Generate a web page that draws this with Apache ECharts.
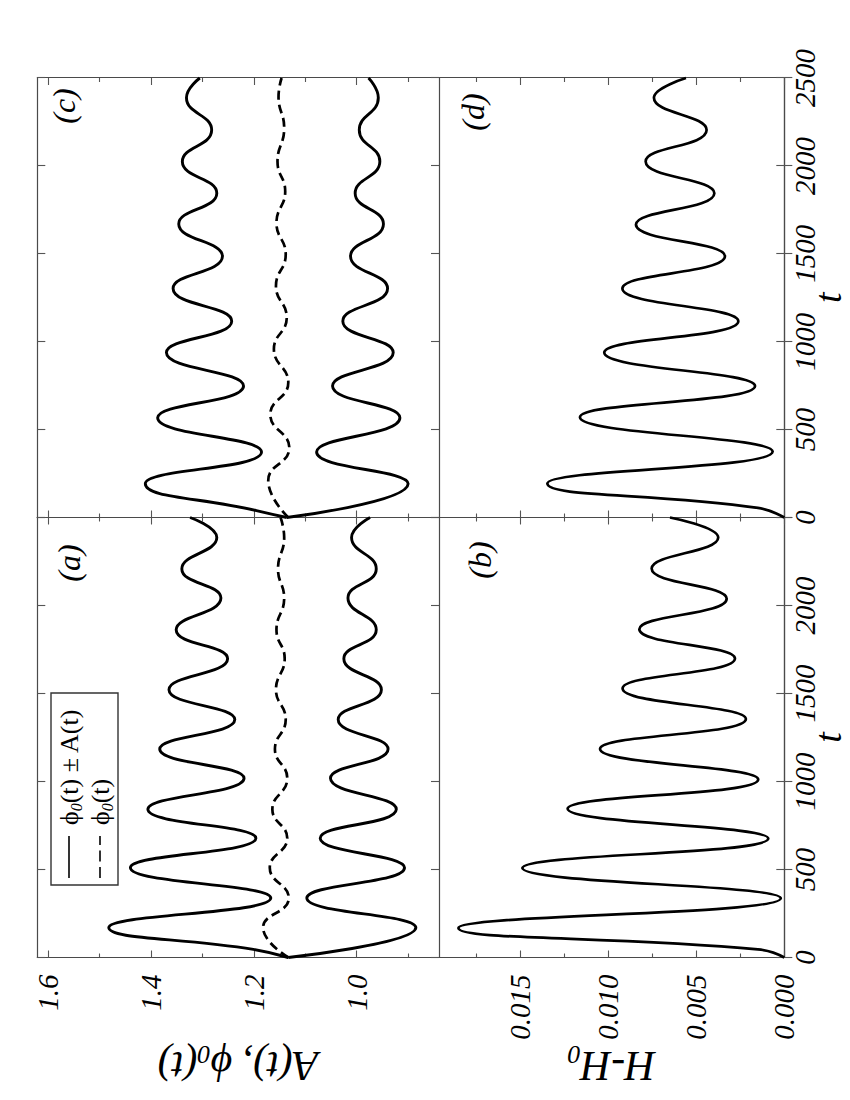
<!DOCTYPE html>
<html><head><meta charset="utf-8">
<script src="https://cdn.jsdelivr.net/npm/echarts@6/dist/echarts.min.js"></script>
<style>
html,body{margin:0;padding:0;background:#fff;overflow:hidden;width:850px;height:1100px;}
#chart{position:absolute;left:0;top:0;width:1100px;height:850px;transform-origin:0 0;transform:translate(0px,1100px) rotate(-90deg);background:#fff;}
</style></head><body><div id="chart"></div>
<script>
// ---- tick labels / axis values ----
const tTickValues = [0, 500, 1000, 1500, 2000, 2500];
const tLabelsB = [0, 500, 1000, 1500, 2000];
const phiMajor = [1.0, 1.2, 1.4, 1.6];
const phiMinor = [0.9, 1.1, 1.3, 1.5];
const hMajor = [0, 0.005, 0.010, 0.015];
const hMinor = [0.0025, 0.0075, 0.0125, 0.0175];

// ---- panel (a): phi0 +/- A and phi0 ----
const tA_upper = [0, 46, 170, 338, 510, 678, 842, 1018, 1184, 1352, 1522, 1698, 1862, 2042, 2208, 2386, 2500];
const a_upper  = [1.133, 1.201, 1.482, 1.167, 1.440, 1.196, 1.406, 1.219, 1.383, 1.237, 1.365, 1.251, 1.351, 1.264, 1.340, 1.272, 1.324];
const tA = [0, 170, 338, 510, 678, 842, 1018, 1184, 1352, 1522, 1698, 1862, 2042, 2208, 2386, 2500];
const a_lower  = [1.133, 0.885, 1.097, 0.907, 1.071, 0.923, 1.051, 0.939, 1.036, 0.952, 1.025, 0.962, 1.017, 0.962, 1.010, 0.974];
const a_phi    = [1.133, 1.182, 1.132, 1.169, 1.135, 1.164, 1.135, 1.159, 1.138, 1.157, 1.140, 1.156, 1.141, 1.153, 1.141, 1.148];

// ---- panel (c) ----
const tC_upper = [0, 39, 192, 372, 567, 748, 938, 1117, 1303, 1486, 1670, 1845, 2025, 2204, 2388, 2500];
const c_upper  = [1.136, 1.195, 1.411, 1.185, 1.387, 1.220, 1.370, 1.243, 1.357, 1.261, 1.346, 1.272, 1.339, 1.282, 1.331, 1.305];
const tC = [0, 192, 372, 567, 748, 938, 1117, 1303, 1486, 1670, 1845, 2025, 2204, 2388, 2500];
const c_lower  = [1.136, 0.900, 1.078, 0.916, 1.047, 0.929, 1.027, 0.940, 1.012, 0.948, 1.003, 0.955, 0.995, 0.958, 0.977];
const tC_phi = [0, 211, 396, 586, 768, 958, 1137, 1317, 1496, 1676, 1855, 2025, 2214, 2394, 2500];
const c_phi  = [1.133, 1.172, 1.131, 1.168, 1.133, 1.161, 1.136, 1.157, 1.138, 1.156, 1.139, 1.154, 1.141, 1.152, 1.146];

// ---- panel (b): H - H0 ----
const tB = [0, 46, 168, 337, 508, 676, 845, 1012, 1185, 1355, 1529, 1699, 1865, 2039, 2210, 2386, 2500];
const b_H = [0, 0.0015, 0.0185, 0.0002, 0.01487, 0.00091, 0.0123, 0.00148, 0.01046, 0.00218, 0.00918, 0.0028, 0.00823, 0.00327, 0.00753, 0.00375, 0.00649];

// ---- panel (d) ----
const tD = [0, 55, 193, 375, 570, 748, 938, 1117, 1303, 1486, 1666, 1845, 2025, 2204, 2388, 2500];
const d_H = [0, 0.0015, 0.01345, 0.00066, 0.0116, 0.00166, 0.01022, 0.00261, 0.00919, 0.00337, 0.00842, 0.00397, 0.00787, 0.00441, 0.0074, 0.00558];

const SERIF = '"Liberation Serif", "DejaVu Serif", "Times New Roman", serif';
const LINE_COL = '#4a4a4a';
const TICK_COL = '#555';
const TICK_FONT = 29;

function zip(t, v) { return t.map((x, i) => [x, v[i]]); }

const grids = [
  {left: 142.5, top: 37.3, width: 440, height: 401.7},   // (a)
  {left: 582.5, top: 37.3, width: 439.5, height: 401.7}, // (c)
  {left: 142.5, top: 439, width: 440, height: 345.3},    // (b)
  {left: 582.5, top: 439, width: 439.5, height: 345.3}   // (d)
].map(g => Object.assign({outerBoundsMode: 'none', containLabel: false}, g));

const richName = {
  n: {fontSize: 42, fontStyle: 'italic', fontFamily: SERIF, color: '#000', lineHeight: 48},
  s: {fontSize: 26, fontStyle: 'italic', fontFamily: SERIF, color: '#000', lineHeight: 48, verticalAlign: 'bottom'}
};

function tAxes(g, labelVals) {
  const base = {
    type: 'value', gridIndex: g, min: 0, max: 2500, interval: 500,
    splitLine: {show: false},
    axisLine: {show: true, lineStyle: {color: LINE_COL, width: 1.2}},
    axisTick: {show: true, inside: true, length: 8, lineStyle: {color: TICK_COL, width: 1.1}}
  };
  const bottom = Object.assign({}, base, {
    position: 'bottom',
    axisLabel: labelVals ? {show: true, customValues: labelVals, margin: 6, fontSize: TICK_FONT, fontStyle: 'italic', fontFamily: SERIF, color: '#000',
      formatter: v => String(Math.round(v))} : {show: false}
  });
  if (labelVals) {
    bottom.name = 't';
    bottom.nameLocation = 'middle';
    bottom.nameGap = 27;
    bottom.nameMoveOverlap = false;
    bottom.nameTextStyle = {fontSize: 38, fontStyle: 'italic', fontFamily: SERIF, color: '#000', lineHeight: 34};
  }
  const top = Object.assign({}, base, {position: 'top', axisLabel: {show: false}});
  return [bottom, top];
}

function vAxes(g, min, max, majors, minors, labelVals, digits, name) {
  const mk = (pos, vals, len, line, labels) => ({
    type: 'value', gridIndex: g, min: min, max: max, position: pos,
    splitLine: {show: false},
    axisLine: {show: line, lineStyle: {color: LINE_COL, width: 1.2}},
    axisTick: {show: true, inside: true, length: len, customValues: vals, lineStyle: {color: TICK_COL, width: 1.1}},
    axisLabel: labels ? {show: true, customValues: labels, margin: 17, fontSize: TICK_FONT, fontStyle: 'italic', fontFamily: SERIF, color: '#000',
      formatter: v => Number(v).toFixed(digits)} : {show: false}
  });
  const lm = mk('left', majors, 7, true, labelVals);
  if (name) {
    lm.name = name;
    lm.nameLocation = 'middle';
    lm.nameGap = 84;
    lm.nameMoveOverlap = false;
    lm.nameTextStyle = {rich: richName};
  }
  return [lm, mk('left', minors, 4, false, null), mk('right', majors, 7, true, null), mk('right', minors, 4, false, null)];
}

const xAxis = [].concat(
  tAxes(0, null), tAxes(1, null), tAxes(2, tLabelsB), tAxes(3, tTickValues)
);
const yAxis = [].concat(
  vAxes(0, 0.84, 1.621, phiMajor, phiMinor, phiMajor, 1, '{n|A(t), ϕ}{s|0}{n|(t)}'),
  vAxes(1, 0.84, 1.621, phiMajor, phiMinor, null, 1, null),
  vAxes(2, 0, 0.0196, hMajor, hMinor, hMajor, 3, '{n|H-H}{s|0}'),
  vAxes(3, 0, 0.0196, hMajor, hMinor, null, 3, null)
);

function line(g, name, data, dashed, width) {
  return {
    type: 'line', name: name, xAxisIndex: g * 2, yAxisIndex: g * 4, data: data,
    symbol: 'none', showSymbol: false, smooth: 0.5, silent: true, clip: true,
    itemStyle: {color: '#000'},
    lineStyle: {color: '#000', width: width, type: dashed ? [9, 5] : 'solid'}
  };
}

const series = [
  line(0, 'ϕ0(t) + A(t)', zip(tA_upper, a_upper), false, 2.9),
  line(0, 'ϕ0(t) - A(t)', zip(tA, a_lower), false, 2.9),
  line(0, 'ϕ0(t)', zip(tA, a_phi), true, 2.7),
  line(1, 'ϕ0(t) + A(t)', zip(tC_upper, c_upper), false, 2.9),
  line(1, 'ϕ0(t) - A(t)', zip(tC, c_lower), false, 2.9),
  line(1, 'ϕ0(t)', zip(tC_phi, c_phi), true, 2.7),
  line(2, 'H-H0 (b)', zip(tB, b_H), false, 2.7),
  line(3, 'H-H0 (d)', zip(tD, d_H), false, 2.7)
];

const panelLabel = (txt, x, y) => ({
  type: 'text', x: x, y: y, silent: true,
  style: {text: txt, fontSize: 32, fontStyle: 'italic', fontFamily: SERIF, fill: '#000', align: 'center', verticalAlign: 'middle'}
});

const legendRich = {
  n: {fontSize: 26, fontFamily: SERIF, fill: '#000', lineHeight: 30},
  s: {fontSize: 16, fontStyle: 'italic', fontFamily: SERIF, fill: '#000', lineHeight: 30, verticalAlign: 'bottom'}
};

const legendGroup = {
  type: 'group', x: 215, y: 51, silent: true,
  children: [
    {type: 'rect', shape: {x: 0, y: 0, width: 192, height: 67}, style: {fill: '#fff', stroke: '#333', lineWidth: 1.4}},
    {type: 'line', shape: {x1: 7, y1: 18, x2: 49, y2: 18}, style: {stroke: '#000', lineWidth: 1.6}},
    {type: 'line', shape: {x1: 7, y1: 49, x2: 49, y2: 49}, style: {stroke: '#000', lineWidth: 1.6, lineDash: [11, 5.5]}},
    {type: 'text', x: 60, y: 18, style: {text: '{n|ϕ}{s|0}{n|(t) ± A(t)}', rich: legendRich, verticalAlign: 'middle', align: 'left'}},
    {type: 'text', x: 60, y: 49, style: {text: '{n|ϕ}{s|0}{n|(t)}', rich: legendRich, verticalAlign: 'middle', align: 'left'}}
  ]
};

const chart = echarts.init(document.getElementById('chart'), null, {renderer: 'svg', width: 1100, height: 850});
chart.setOption({
  animation: false,
  backgroundColor: '#fff',
  grid: grids,
  xAxis: xAxis,
  yAxis: yAxis,
  graphic: [
    legendGroup,
    panelLabel('(a)', 537, 69),
    panelLabel('(c)', 994, 64),
    panelLabel('(b)', 540, 480),
    panelLabel('(d)', 988, 473)
  ],
  series: series
});
</script>
</body></html>
